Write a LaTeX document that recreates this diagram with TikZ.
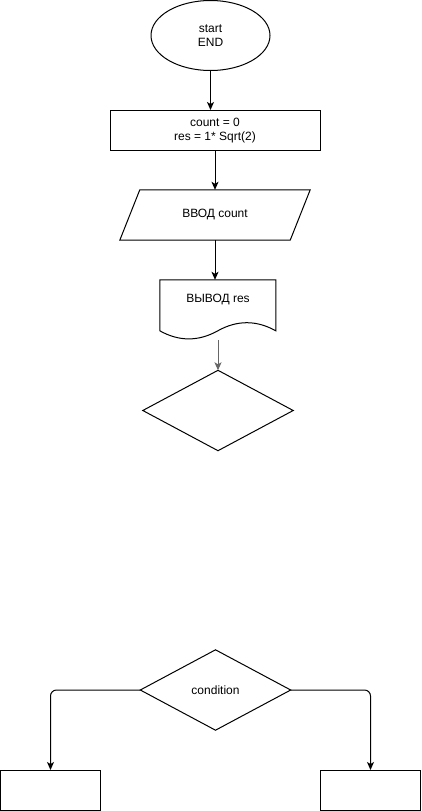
\documentclass[tikz,border=0pt]{standalone}
\usepackage{fontspec}
\setmainfont{Liberation Sans}
\usetikzlibrary{arrows.meta,shapes.geometric,calc}
\definecolor{edgegray}{HTML}{666666}
\begin{document}
\begin{tikzpicture}[x=1pt,y=-1pt,
  every node/.style={font=\fontsize{12}{14}\selectfont, align=center, inner sep=0pt},
  shapeline/.style={draw=black, line width=1pt},
  arrowline/.style={draw=black, line width=1pt, -{Stealth[length=8pt,width=7pt,inset=2pt]}},
  procbox/.style={shapeline, rectangle, minimum width=#1, minimum height=40pt},
  hidden/.style={rectangle, minimum width=#1},
]
\useasboundingbox (0,0) rectangle (421,811);

% start / END ellipse
\node[shapeline, ellipse, minimum width=119pt, minimum height=70pt] (start) at (210.5,35.5) {start\\END};

% process box
\node[procbox=210pt] (init) at (215,130.5) {count = 0\\res = 1* Sqrt(2)};

% input parallelogram
\node[hidden=170pt, minimum height=50pt] (in) at (215,215) {ВВОД count};
\draw[shapeline] ($(in.south west)+(-10,0)$) -- ($(in.north west)+(10,0)$)
  -- ($(in.north east)+(10,0)$) -- ($(in.south east)+(-10,0)$) -- cycle;

% output document
\node[hidden=116pt, minimum height=40pt] (out) at (218,300) {ВЫВОД res};
\draw[shapeline, shift={(out.north west)}] (0,0) -- (116,0) -- (116,51)
  .. controls (96.67,40.2) and (77.33,40.2) .. (58,51)
  .. controls (38.67,61.8) and (19.33,61.8) .. (0,51) -- cycle;
\coordinate (outbot) at ($(out.south)+(0,20)$);

% empty decision
\node[hidden=150pt, minimum height=80pt] (d1) at (218,410.5) {};
\draw[shapeline] (d1.north) -- (d1.east) -- (d1.south) -- (d1.west) -- cycle;

% condition decision
\node[hidden=150pt, minimum height=80pt] (cond) at (215.5,690) {condition};
\draw[shapeline] (cond.north) -- (cond.east) -- (cond.south) -- (cond.west) -- cycle;

% bottom boxes
\node[procbox=100pt] (lb) at (50.5,790.5) {};
\node[procbox=100pt] (rb) at (370.5,790.5) {};

% connectors
\draw[arrowline] (start.south) -- (start.south |- init.north);
\draw[arrowline] (init.south) -- (in.north);
\draw[arrowline] (in.south) -- (in.south |- out.north);
\draw[arrowline, draw=edgegray, color=edgegray] (outbot) -- (d1.north);
\draw[arrowline, rounded corners=6pt] (cond.west) -| (lb.north);
\draw[arrowline, rounded corners=6pt] (cond.east) -| (rb.north);
\end{tikzpicture}
\end{document}
